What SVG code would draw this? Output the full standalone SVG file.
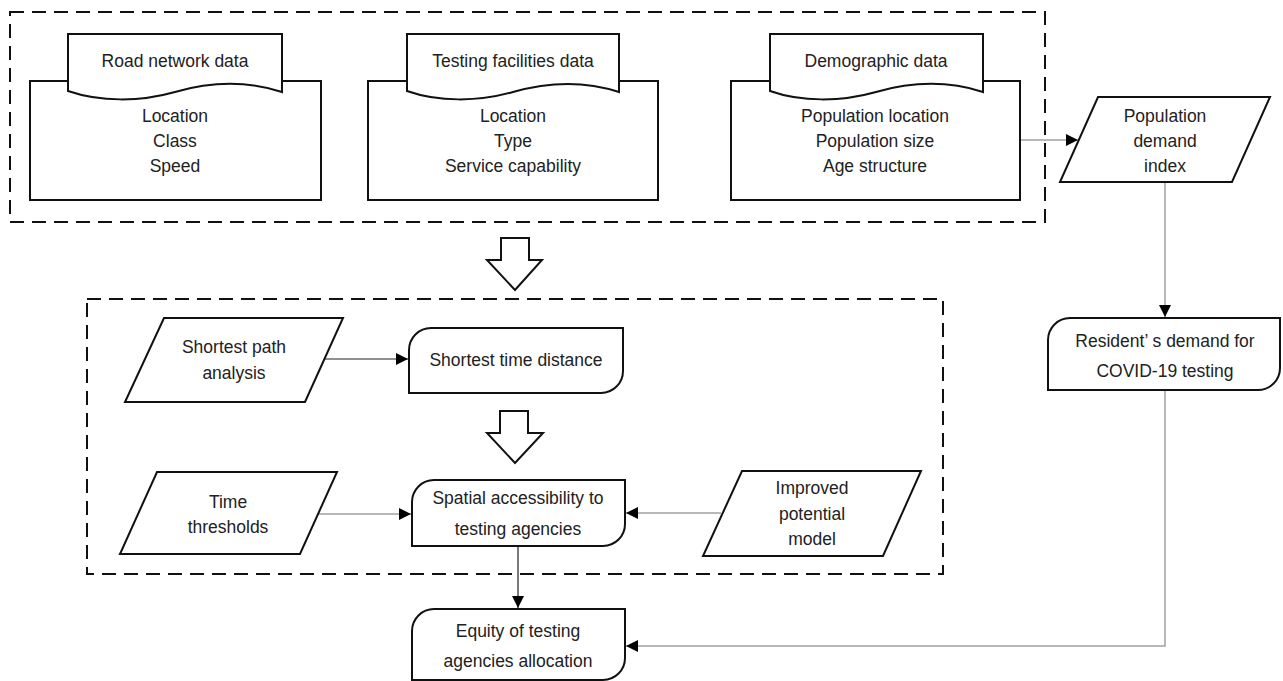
<svg xmlns="http://www.w3.org/2000/svg" width="1283" height="681" viewBox="0 0 1283 681">
<style>
.t{font-family:"Liberation Sans",Arial,sans-serif;font-size:17.5px;fill:#222;text-anchor:middle}
.n{fill:#fff;stroke:#111;stroke-width:2}
.box{fill:none;stroke:#111;stroke-width:2;stroke-dasharray:14 8}
.g{fill:none;stroke:#a0a0a0;stroke-width:1.5}
.k{fill:none;stroke:#222;stroke-width:1.2}
.h{fill:#fff;stroke:#111;stroke-width:2;stroke-linejoin:miter}
</style>
<defs>
<marker id="ah" markerWidth="12" markerHeight="12" refX="12" refY="6" orient="auto" markerUnits="userSpaceOnUse">
<path d="M0,0 L12,6 L0,12 Z" fill="#000"/>
</marker>
</defs>
<rect width="1283" height="681" fill="#fff"/>
<g id="frames">
<rect class="box" x="10" y="12" width="1035" height="210"/>
<rect class="box" x="87" y="299" width="856" height="275"/>
</g>
<g id="bigarrows">
<path class="h" d="M501,238 H529 V260 H542 L515,290 L487,260 H501 Z"/>
<path class="h" d="M500,411 H528 V433 H543 L515,463 L487,433 H500 Z"/>
</g>
<g id="connectors">
<path class="g" d="M1020,140 H1078" marker-end="url(#ah)"/>
<path class="g" d="M1165,182 V317" marker-end="url(#ah)"/>
<path class="g" d="M1165,390 V646 H626" marker-end="url(#ah)"/>
<path class="k" d="M324,359 H408" marker-end="url(#ah)"/>
<path class="g" d="M318,514 H411" marker-end="url(#ah)"/>
<path class="g" d="M721,513 H626" marker-end="url(#ah)"/>
<path class="k" d="M518,546 V608" marker-end="url(#ah)"/>
</g>
<g id="road">
<rect class="n" x="30" y="81" width="291" height="119"/>
<path class="n" d="M68,34 H282 V92 C245,80 210,82 175,92 C140,102 100,102 68,91 Z"/>
<text class="t" x="175" y="66.5">Road network data</text>
<text class="t" x="175" y="121.5">Location</text>
<text class="t" x="175" y="146.5">Class</text>
<text class="t" x="175" y="171.5">Speed</text>
</g>
<g id="facilities">
<rect class="n" x="368" y="81" width="290" height="119"/>
<path class="n" d="M407,34 H619 V92 C582,80 548,82 513,92 C478,102 438,102 407,91 Z"/>
<text class="t" x="513" y="66.5">Testing facilities data</text>
<text class="t" x="513" y="121.5">Location</text>
<text class="t" x="513" y="146.5">Type</text>
<text class="t" x="513" y="171.5">Service capability</text>
</g>
<g id="demographic">
<rect class="n" x="731" y="81" width="289" height="119"/>
<path class="n" d="M770,34 H983 V92 C946,80 911,82 876,92 C841,102 801,102 770,91 Z"/>
<text class="t" x="876" y="66.5">Demographic data</text>
<text class="t" x="875" y="121.5">Population location</text>
<text class="t" x="875" y="146.5">Population size</text>
<text class="t" x="875" y="171.5">Age structure</text>
</g>
<g id="popindex">
<path class="n" d="M1098,97 H1270 L1232,182 H1060 Z"/>
<text class="t" x="1165" y="121.5">Population</text>
<text class="t" x="1165" y="146.5">demand</text>
<text class="t" x="1165" y="171.5">index</text>
</g>
<g id="resident">
<path class="n" d="M1070,318 H1280 V368 A22,22 0 0 1 1258,390 H1048 V340 A22,22 0 0 1 1070,318 Z"/>
<text class="t" x="1165" y="346.5">Resident’ s demand for</text>
<text class="t" x="1165" y="376.5">COVID-19 testing</text>
</g>
<g id="shortestpath">
<path class="n" d="M164,318 H343 L305,402 H125 Z"/>
<text class="t" x="234" y="353">Shortest path</text>
<text class="t" x="234" y="379">analysis</text>
</g>
<g id="timedistance">
<path class="n" d="M431,328 H623 V371 A22,22 0 0 1 601,393 H409 V350 A22,22 0 0 1 431,328 Z"/>
<text class="t" x="516" y="366">Shortest time distance</text>
</g>
<g id="thresholds">
<path class="n" d="M157,472 H337 L300,554 H120 Z"/>
<text class="t" x="228" y="508">Time</text>
<text class="t" x="228" y="533">thresholds</text>
</g>
<g id="spatial">
<path class="n" d="M434,480 H625 V524 A22,22 0 0 1 603,546 H412 V502 A22,22 0 0 1 434,480 Z"/>
<text class="t" x="518" y="504">Spatial accessibility to</text>
<text class="t" x="518" y="535">testing agencies</text>
</g>
<g id="improved">
<path class="n" d="M742,471 H921 L883,556 H703 Z"/>
<text class="t" x="812" y="494">Improved</text>
<text class="t" x="812" y="520">potential</text>
<text class="t" x="812" y="545">model</text>
</g>
<g id="equity">
<path class="n" d="M434,609 H625 V658 A22,22 0 0 1 603,680 H412 V631 A22,22 0 0 1 434,609 Z"/>
<text class="t" x="518" y="637">Equity of testing</text>
<text class="t" x="518" y="667">agencies allocation</text>
</g>
</svg>
